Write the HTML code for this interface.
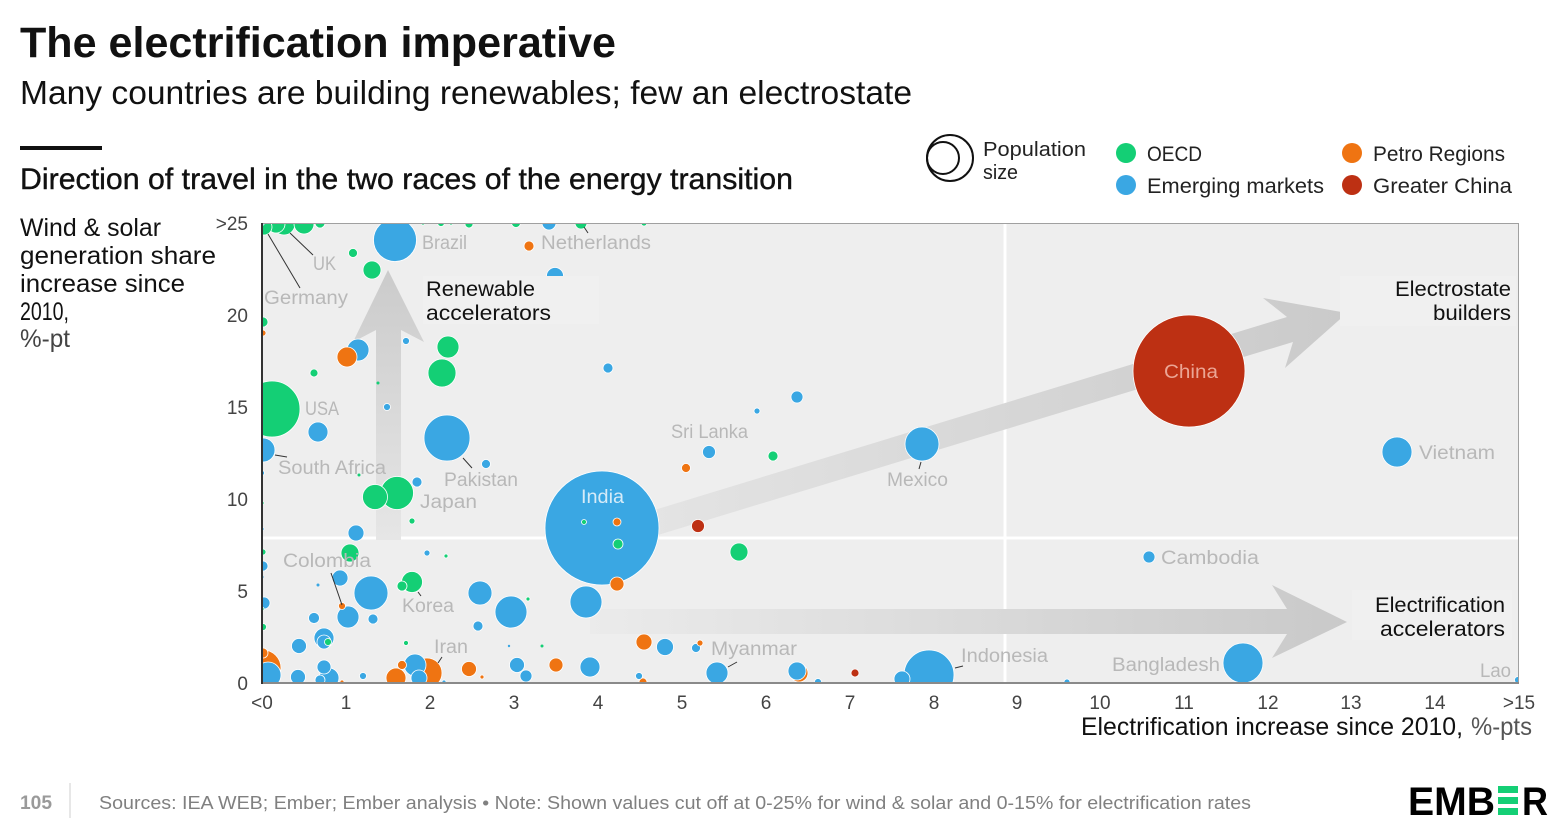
<!DOCTYPE html>
<html><head><meta charset="utf-8"><style>
html,body{margin:0;padding:0;background:#fff;}
svg{display:block;}
</style></head><body>
<svg width="1562" height="832" viewBox="0 0 1562 832" xmlns="http://www.w3.org/2000/svg" font-family="'Liberation Sans', sans-serif">
<rect width="1562" height="832" fill="#fff"/>
<defs>
<clipPath id="pc"><rect x="262" y="223" width="1256" height="460"/></clipPath>
<linearGradient id="gv" x1="0" y1="0" x2="0" y2="1"><stop offset="0" stop-color="#cbcbcb"/><stop offset="1" stop-color="#e6e6e6"/></linearGradient>
<linearGradient id="gh" x1="0" y1="0" x2="1" y2="0"><stop offset="0" stop-color="#ebebeb"/><stop offset="1" stop-color="#c9c9c9"/></linearGradient>
<linearGradient id="gd" x1="0" y1="0" x2="1" y2="0"><stop offset="0" stop-color="#e5e5e5"/><stop offset="1" stop-color="#cacaca"/></linearGradient>
</defs>

<!-- Header -->
<text x="20" y="57" font-size="43" font-weight="bold" fill="#111" textLength="596" lengthAdjust="spacingAndGlyphs">The electrification imperative</text>
<text x="20" y="104" font-size="33" fill="#111" textLength="892" lengthAdjust="spacingAndGlyphs">Many countries are building renewables; few an electrostate</text>
<rect x="20" y="146" width="82" height="4" fill="#111"/>
<text x="20" y="189" font-size="30" fill="#111" stroke="#111" stroke-width="0.4" textLength="773" lengthAdjust="spacingAndGlyphs">Direction of travel in the two races of the energy transition</text>

<!-- Legend -->
<circle cx="950" cy="158" r="23" fill="none" stroke="#111" stroke-width="2"/>
<circle cx="943" cy="158" r="16" fill="none" stroke="#111" stroke-width="2"/>
<text x="983" y="156" font-size="20" fill="#222" textLength="103" lengthAdjust="spacingAndGlyphs">Population</text>
<text x="983" y="179" font-size="20" fill="#222" textLength="35" lengthAdjust="spacingAndGlyphs">size</text>
<circle cx="1126" cy="153" r="10" fill="#14cf75"/>
<text x="1147" y="161" font-size="21" fill="#222" textLength="55" lengthAdjust="spacingAndGlyphs">OECD</text>
<circle cx="1126" cy="185" r="10" fill="#3aa7e3"/>
<text x="1147" y="193" font-size="21" fill="#222" textLength="177" lengthAdjust="spacingAndGlyphs">Emerging markets</text>
<circle cx="1352" cy="153" r="10" fill="#ef7412"/>
<text x="1373" y="161" font-size="21" fill="#222" textLength="132" lengthAdjust="spacingAndGlyphs">Petro Regions</text>
<circle cx="1352" cy="185" r="10" fill="#bd3013"/>
<text x="1373" y="193" font-size="21" fill="#222" textLength="139" lengthAdjust="spacingAndGlyphs">Greater China</text>

<!-- Y axis title -->
<g font-size="25" fill="#111">
<text x="20" y="236" textLength="141" lengthAdjust="spacingAndGlyphs">Wind &amp; solar</text>
<text x="20" y="264" textLength="196" lengthAdjust="spacingAndGlyphs">generation share</text>
<text x="20" y="292" textLength="165" lengthAdjust="spacingAndGlyphs">increase since</text>
<text x="20" y="320" textLength="49" lengthAdjust="spacingAndGlyphs">2010,</text>
<text x="20" y="347" fill="#444" textLength="50" lengthAdjust="spacingAndGlyphs">%-pt</text>
</g>

<!-- Plot background -->
<rect x="262" y="223" width="1256" height="460" fill="#eeeeee"/>
<line x1="1005" y1="223" x2="1005" y2="683" stroke="#fff" stroke-width="3"/>
<line x1="262" y1="538" x2="1518" y2="538" stroke="#fff" stroke-width="3"/>

<g clip-path="url(#pc)">
<!-- arrows -->
<polygon points="376,540 376,330 353,342 388,270 424,342 401,330 401,540" fill="url(#gv)"/>
<polygon points="590,609 1287,609 1272,585 1347,622 1272,658 1287,634 590,634" fill="url(#gh)"/>
<polygon points="620,520.5 1287,317 1263,298 1347,313 1285,368 1293,342 620,546.5" fill="url(#gd)"/>

<!-- bubbles -->
<g stroke="#fff" stroke-width="0.8">
<circle cx="1189" cy="371" r="56" fill="#bd3013"/>
<circle cx="602" cy="528" r="57" fill="#3aa7e3"/>
<circle cx="272" cy="409" r="28" fill="#14cf75"/>
<circle cx="929" cy="675" r="25" fill="#3aa7e3"/>
<circle cx="447" cy="438" r="23" fill="#3aa7e3"/>
<circle cx="395" cy="240" r="21.5" fill="#3aa7e3"/>
<circle cx="1243" cy="663" r="20" fill="#3aa7e3"/>
<circle cx="263" cy="668" r="18" fill="#ef7412"/>
<circle cx="371" cy="593" r="17" fill="#3aa7e3"/>
<circle cx="922" cy="444" r="17" fill="#3aa7e3"/>
<circle cx="397" cy="493" r="16.5" fill="#14cf75"/>
<circle cx="511" cy="612" r="16" fill="#3aa7e3"/>
<circle cx="586" cy="602" r="16" fill="#3aa7e3"/>
<circle cx="1397" cy="452" r="15" fill="#3aa7e3"/>
<circle cx="427" cy="673" r="15" fill="#ef7412"/>
<circle cx="442" cy="373" r="14" fill="#14cf75"/>
<circle cx="268" cy="675" r="13" fill="#3aa7e3"/>
<circle cx="375" cy="497" r="12.5" fill="#14cf75"/>
<circle cx="480" cy="593" r="12" fill="#3aa7e3"/>
<circle cx="263" cy="450" r="12" fill="#3aa7e3"/>
<circle cx="358" cy="350" r="11" fill="#3aa7e3"/>
<circle cx="448" cy="347" r="11" fill="#14cf75"/>
<circle cx="348" cy="617" r="11" fill="#3aa7e3"/>
<circle cx="415" cy="665" r="11" fill="#3aa7e3"/>
<circle cx="717" cy="673" r="11" fill="#3aa7e3"/>
<circle cx="284" cy="224" r="11" fill="#14cf75"/>
<circle cx="412" cy="582" r="10.5" fill="#14cf75"/>
<circle cx="347" cy="357" r="10" fill="#ef7412"/>
<circle cx="318" cy="432" r="10" fill="#3aa7e3"/>
<circle cx="324" cy="638" r="10" fill="#3aa7e3"/>
<circle cx="590" cy="667" r="10" fill="#3aa7e3"/>
<circle cx="329" cy="678" r="10" fill="#3aa7e3"/>
<circle cx="396" cy="678" r="10" fill="#ef7412"/>
<circle cx="304" cy="224" r="10" fill="#14cf75"/>
<circle cx="276" cy="224" r="9" fill="#14cf75"/>
<circle cx="372" cy="270" r="9" fill="#14cf75"/>
<circle cx="350" cy="553" r="9" fill="#14cf75"/>
<circle cx="739" cy="552" r="9" fill="#14cf75"/>
<circle cx="665" cy="647" r="8.5" fill="#3aa7e3"/>
<circle cx="799" cy="673" r="9" fill="#ef7412"/>
<circle cx="797" cy="671" r="9" fill="#3aa7e3"/>
<circle cx="555" cy="276" r="8.5" fill="#3aa7e3"/>
<circle cx="356" cy="533" r="8" fill="#3aa7e3"/>
<circle cx="340" cy="578" r="8" fill="#3aa7e3"/>
<circle cx="644" cy="642" r="8" fill="#ef7412"/>
<circle cx="419" cy="678" r="8" fill="#3aa7e3"/>
<circle cx="902" cy="679" r="8" fill="#3aa7e3"/>
<circle cx="264" cy="227" r="8" fill="#14cf75"/>
<circle cx="299" cy="646" r="7.5" fill="#3aa7e3"/>
<circle cx="298" cy="677" r="7.5" fill="#3aa7e3"/>
<circle cx="517" cy="665" r="7.5" fill="#3aa7e3"/>
<circle cx="469" cy="669" r="7.5" fill="#ef7412"/>
<circle cx="549" cy="223" r="7" fill="#3aa7e3"/>
<circle cx="324" cy="667" r="7" fill="#3aa7e3"/>
<circle cx="324" cy="642" r="7" fill="#3aa7e3"/>
<circle cx="617" cy="584" r="7" fill="#ef7412"/>
<circle cx="556" cy="665" r="7" fill="#ef7412"/>
<circle cx="709" cy="452" r="6.5" fill="#3aa7e3"/>
<circle cx="698" cy="526" r="6.5" fill="#bd3013"/>
<circle cx="264" cy="603" r="6" fill="#3aa7e3"/>
<circle cx="526" cy="676" r="6" fill="#3aa7e3"/>
<circle cx="581" cy="223" r="6" fill="#14cf75"/>
<circle cx="797" cy="397" r="6" fill="#3aa7e3"/>
<circle cx="1149" cy="557" r="6" fill="#3aa7e3"/>
<circle cx="263" cy="566" r="5" fill="#3aa7e3"/>
<circle cx="263" cy="322" r="5" fill="#14cf75"/>
<circle cx="608" cy="368" r="5" fill="#3aa7e3"/>
<circle cx="417" cy="482" r="5" fill="#3aa7e3"/>
<circle cx="373" cy="619" r="5" fill="#3aa7e3"/>
<circle cx="478" cy="626" r="5" fill="#3aa7e3"/>
<circle cx="320" cy="680" r="5" fill="#3aa7e3"/>
<circle cx="320" cy="223" r="5" fill="#14cf75"/>
<circle cx="402" cy="586" r="5" fill="#14cf75"/>
<circle cx="618" cy="544" r="5" fill="#14cf75"/>
<circle cx="773" cy="456" r="5" fill="#14cf75"/>
<circle cx="529" cy="246" r="5" fill="#ef7412"/>
<circle cx="263" cy="653" r="5" fill="#ef7412"/>
<circle cx="314" cy="618" r="5.5" fill="#3aa7e3"/>
<circle cx="353" cy="253" r="4.5" fill="#14cf75"/>
<circle cx="486" cy="464" r="4.5" fill="#3aa7e3"/>
<circle cx="696" cy="648" r="4.5" fill="#3aa7e3"/>
<circle cx="686" cy="468" r="4.5" fill="#ef7412"/>
<circle cx="402" cy="665" r="4.5" fill="#ef7412"/>
<circle cx="469" cy="224" r="4" fill="#14cf75"/>
<circle cx="516" cy="223" r="4.5" fill="#14cf75"/>
<circle cx="314" cy="373" r="4" fill="#14cf75"/>
<circle cx="617" cy="522" r="4" fill="#ef7412"/>
<circle cx="643" cy="682" r="4" fill="#ef7412"/>
<circle cx="855" cy="673" r="4" fill="#bd3013"/>
<circle cx="263" cy="627" r="3.5" fill="#14cf75"/>
<circle cx="406" cy="341" r="3.5" fill="#3aa7e3"/>
<circle cx="387" cy="407" r="3.5" fill="#3aa7e3"/>
<circle cx="363" cy="676" r="3.5" fill="#3aa7e3"/>
<circle cx="639" cy="676" r="3.5" fill="#3aa7e3"/>
<circle cx="818" cy="682" r="3.5" fill="#3aa7e3"/>
<circle cx="328" cy="642" r="3.5" fill="#14cf75"/>
<circle cx="342" cy="606" r="3.5" fill="#ef7412"/>
<circle cx="441" cy="223" r="3.5" fill="#14cf75"/>
<circle cx="1518" cy="680" r="3.5" fill="#3aa7e3"/>
<circle cx="757" cy="411" r="3" fill="#3aa7e3"/>
<circle cx="1067" cy="682" r="3" fill="#3aa7e3"/>
<circle cx="412" cy="521" r="3" fill="#14cf75"/>
<circle cx="427" cy="553" r="3" fill="#3aa7e3"/>
<circle cx="263" cy="333" r="3" fill="#ef7412"/>
<circle cx="700" cy="643" r="3" fill="#ef7412"/>
<circle cx="263" cy="552" r="3" fill="#14cf75"/>
<circle cx="644" cy="223" r="3" fill="#14cf75"/>
<circle cx="584" cy="522" r="2.5" fill="#14cf75"/>
<circle cx="406" cy="643" r="2.5" fill="#14cf75"/>
<circle cx="262" cy="473" r="2.5" fill="#3aa7e3"/>
<circle cx="262" cy="223" r="2.5" fill="#3aa7e3"/>
<circle cx="446" cy="556" r="2" fill="#14cf75"/>
<circle cx="528" cy="599" r="2" fill="#14cf75"/>
<circle cx="262" cy="503" r="2" fill="#14cf75"/>
<circle cx="262" cy="529" r="2" fill="#3aa7e3"/>
<circle cx="262" cy="609" r="2" fill="#14cf75"/>
<circle cx="482" cy="677" r="2" fill="#ef7412"/>
<circle cx="342" cy="682" r="2" fill="#ef7412"/>
<circle cx="444" cy="682" r="2" fill="#3aa7e3"/>
<circle cx="423" cy="223" r="2" fill="#14cf75"/>
<circle cx="451" cy="223" r="2" fill="#14cf75"/>
<circle cx="359" cy="475" r="1.5" fill="#14cf75" stroke="none"/>
<circle cx="378" cy="383" r="1.5" fill="#14cf75" stroke="none"/>
<circle cx="318" cy="585" r="1.5" fill="#3aa7e3" stroke="none"/>
<circle cx="542" cy="646" r="1.5" fill="#14cf75" stroke="none"/>
<circle cx="262" cy="577" r="1.5" fill="#3aa7e3" stroke="none"/>
<circle cx="509" cy="646" r="1.2" fill="#3aa7e3" stroke="none"/>
</g>

<!-- label boxes -->
<rect x="423" y="276" width="176" height="48" fill="#f0f0f0"/>
<rect x="1340" y="276" width="176" height="50" fill="#f0f0f0"/>
<rect x="1352" y="590" width="160" height="50" fill="#f0f0f0"/>
</g>

<!-- leader lines -->
<g stroke="#333" stroke-width="1">
<line x1="268" y1="234" x2="300" y2="288"/>
<line x1="290" y1="233" x2="313" y2="255"/>
<line x1="584" y1="227" x2="588" y2="233"/>
<line x1="275" y1="455" x2="287" y2="457"/>
<line x1="463" y1="458" x2="472" y2="468"/>
<line x1="331" y1="573" x2="342" y2="605"/>
<line x1="418" y1="592" x2="421" y2="596"/>
<line x1="438" y1="663" x2="442" y2="657"/>
<line x1="921" y1="462" x2="919" y2="469"/>
<line x1="728" y1="667" x2="737" y2="662"/>
<line x1="955" y1="668" x2="963" y2="666"/>
</g>

<!-- country labels -->
<g font-size="19" fill="#b8b8b8">
<text x="422" y="249" textLength="45" lengthAdjust="spacingAndGlyphs">Brazil</text>
<text x="541" y="249" textLength="110" lengthAdjust="spacingAndGlyphs">Netherlands</text>
<text x="313" y="270" textLength="23" lengthAdjust="spacingAndGlyphs">UK</text>
<text x="264" y="304" textLength="84" lengthAdjust="spacingAndGlyphs">Germany</text>
<text x="305" y="415" textLength="34" lengthAdjust="spacingAndGlyphs">USA</text>
<text x="278" y="474" textLength="108" lengthAdjust="spacingAndGlyphs">South Africa</text>
<text x="444" y="486" textLength="74" lengthAdjust="spacingAndGlyphs">Pakistan</text>
<text x="420" y="508" textLength="57" lengthAdjust="spacingAndGlyphs">Japan</text>
<text x="283" y="567" textLength="88" lengthAdjust="spacingAndGlyphs">Colombia</text>
<text x="402" y="612" textLength="52" lengthAdjust="spacingAndGlyphs">Korea</text>
<text x="434" y="653" textLength="34" lengthAdjust="spacingAndGlyphs">Iran</text>
<text x="671" y="438" textLength="77" lengthAdjust="spacingAndGlyphs">Sri Lanka</text>
<text x="887" y="486" textLength="61" lengthAdjust="spacingAndGlyphs">Mexico</text>
<text x="1419" y="459" textLength="76" lengthAdjust="spacingAndGlyphs">Vietnam</text>
<text x="1161" y="564" textLength="98" lengthAdjust="spacingAndGlyphs">Cambodia</text>
<text x="711" y="655" textLength="86" lengthAdjust="spacingAndGlyphs">Myanmar</text>
<text x="961" y="662" textLength="87" lengthAdjust="spacingAndGlyphs">Indonesia</text>
<text x="1112" y="671" textLength="108" lengthAdjust="spacingAndGlyphs">Bangladesh</text>
<text x="1480" y="677" textLength="31" lengthAdjust="spacingAndGlyphs">Lao</text>
<text x="581" y="503" fill="#d5ebf8" textLength="43" lengthAdjust="spacingAndGlyphs">India</text>
<text x="1164" y="378" fill="#eba594" textLength="54" lengthAdjust="spacingAndGlyphs">China</text>
</g>

<!-- annotations -->
<g font-size="21.5" fill="#111">
<text x="426" y="296" textLength="109" lengthAdjust="spacingAndGlyphs">Renewable</text>
<text x="426" y="320" textLength="125" lengthAdjust="spacingAndGlyphs">accelerators</text>
<text x="1395" y="296" textLength="116" lengthAdjust="spacingAndGlyphs">Electrostate</text>
<text x="1433" y="320" textLength="78" lengthAdjust="spacingAndGlyphs">builders</text>
<text x="1375" y="612" textLength="130" lengthAdjust="spacingAndGlyphs">Electrification</text>
<text x="1380" y="636" textLength="125" lengthAdjust="spacingAndGlyphs">accelerators</text>
</g>

<!-- axes -->
<line x1="262" y1="223.5" x2="1518" y2="223.5" stroke="#a0a0a0" stroke-width="1"/>
<line x1="1518.5" y1="223" x2="1518.5" y2="683" stroke="#a0a0a0" stroke-width="1"/>
<line x1="262" y1="683" x2="1519" y2="683" stroke="#8a8a8a" stroke-width="2"/>
<line x1="262" y1="223" x2="262" y2="684" stroke="#333" stroke-width="2"/>

<!-- y ticks -->
<g font-size="19" fill="#444" text-anchor="end">
<text x="248" y="230">&gt;25</text>
<text x="248" y="322">20</text>
<text x="248" y="414">15</text>
<text x="248" y="506">10</text>
<text x="248" y="598">5</text>
<text x="248" y="690">0</text>
</g>
<!-- x ticks -->
<g font-size="19" fill="#444" text-anchor="middle">
<text x="262" y="709">&lt;0</text>
<text x="346" y="709">1</text>
<text x="430" y="709">2</text>
<text x="514" y="709">3</text>
<text x="598" y="709">4</text>
<text x="682" y="709">5</text>
<text x="766" y="709">6</text>
<text x="850" y="709">7</text>
<text x="934" y="709">8</text>
<text x="1017" y="709">9</text>
<text x="1100" y="709">10</text>
<text x="1184" y="709">11</text>
<text x="1268" y="709">12</text>
<text x="1351" y="709">13</text>
<text x="1435" y="709">14</text>
<text x="1519" y="709">&gt;15</text>
</g>

<!-- x axis title -->
<text x="1081" y="735" font-size="25" fill="#111" textLength="382" lengthAdjust="spacingAndGlyphs">Electrification increase since 2010,</text>
<text x="1471" y="735" font-size="25" fill="#555" textLength="61" lengthAdjust="spacingAndGlyphs">%-pts</text>

<!-- footer -->
<text x="20" y="809" font-size="19" font-weight="bold" fill="#9a9a9a" textLength="32" lengthAdjust="spacingAndGlyphs">105</text>
<line x1="70" y1="783" x2="70" y2="818" stroke="#cfcfcf" stroke-width="1"/>
<text x="99" y="809" font-size="18" fill="#808080" textLength="1152" lengthAdjust="spacingAndGlyphs">Sources: IEA WEB; Ember; Ember analysis • Note: Shown values cut off at 0-25% for wind &amp; solar and 0-15% for electrification rates</text>

<!-- logo -->
<text x="1408" y="815" font-size="40" font-weight="bold" fill="#000" textLength="87" lengthAdjust="spacingAndGlyphs">EMB</text>
<rect x="1498" y="786" width="20" height="7" fill="#14cf75"/>
<rect x="1498" y="797" width="20" height="7" fill="#14cf75"/>
<rect x="1498" y="808" width="20" height="7" fill="#14cf75"/>
<text x="1522" y="815" font-size="40" font-weight="bold" fill="#000" textLength="26" lengthAdjust="spacingAndGlyphs">R</text>
</svg>
</body></html>
